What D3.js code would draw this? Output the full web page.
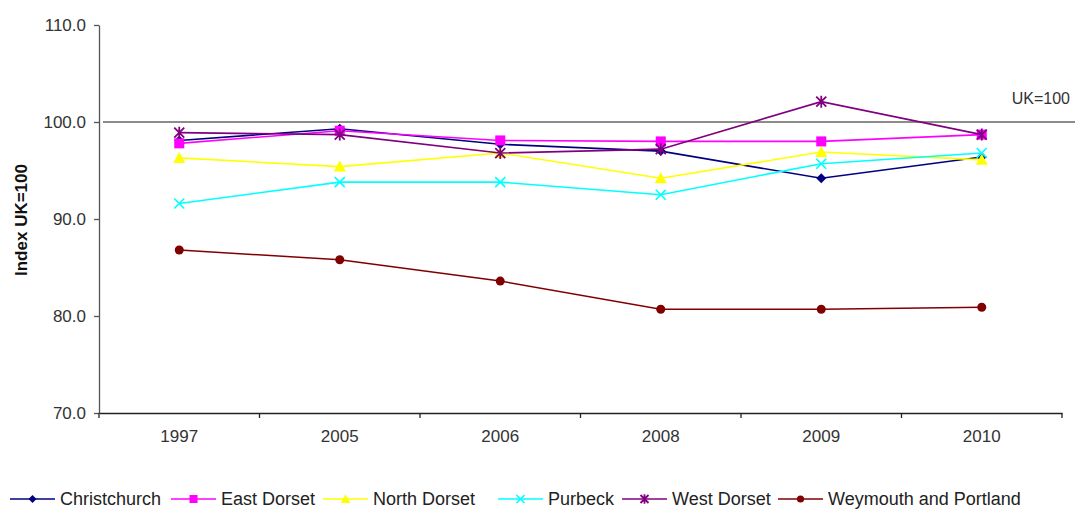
<!DOCTYPE html>
<html><head><meta charset="utf-8">
<script src="https://cdn.jsdelivr.net/npm/d3@7"></script>
<style>body{margin:0;background:#fff}svg{display:block;font-family:"Liberation Sans",Arial,sans-serif}</style>
</head><body><svg id="c" width="1075" height="509"></svg>
<script>
const years = ["1997","2005","2006","2008","2009","2010"];
const seriesNames = ["Christchurch","East Dorset","North Dorset","Purbeck","West Dorset","Weymouth and Portland"];
const christchurch = [98.1, 99.3, 97.7, 97.0, 94.2, 96.4];
const eastDorset   = [97.8, 99.1, 98.1, 98.0, 98.0, 98.7];
const northDorset  = [96.3, 95.4, 96.8, 94.2, 96.9, 96.1];
const purbeck      = [91.6, 93.8, 93.8, 92.5, 95.7, 96.8];
const westDorset   = [98.9, 98.7, 96.8, 97.2, 102.1, 98.7];
const weymouth     = [86.8, 85.8, 83.6, 80.7, 80.7, 80.9];
const yTicks = [70, 80, 90, 100, 110];
const refValue = 100;

const colors = ["#000080","#FF00FF","#FFFF00","#00FFFF","#800080","#800000"];
const markers = ["diamond","square","triangle","x","star","circle"];
const data = [christchurch, eastDorset, northDorset, purbeck, westDorset, weymouth];

const svg = d3.select("#c");
const L = 99, R = 1062, T = 25, B = 413;
const FS = 17;
const x = d3.scaleBand().domain(years).range([L, R]);
const y = d3.scaleLinear().domain([70, 110]).range([B, T]);
const axisCol = "#555";

// y axis
const ya = svg.append("g").attr("transform", `translate(${L},0)`)
  .call(d3.axisLeft(y).tickValues(yTicks).tickFormat(d3.format(".1f")).tickSize(5).tickSizeOuter(0));
ya.select(".domain").attr("stroke", axisCol).attr("stroke-width", 1.3);
ya.selectAll(".tick line").attr("stroke", axisCol).attr("stroke-width", 1.3);
ya.selectAll(".tick text").attr("font-size", FS).attr("fill", "#333").attr("dx", -5).attr("font-family", "Liberation Sans, Arial, sans-serif");

// x axis
const xa = svg.append("g").attr("transform", `translate(0,${B})`)
  .call(d3.axisBottom(x).tickSize(0).tickPadding(17));
xa.select(".domain").attr("stroke", "#222").attr("stroke-width", 1.3);
xa.selectAll(".tick text").attr("font-size", FS).attr("fill", "#333").attr("font-family", "Liberation Sans, Arial, sans-serif");
const bounds = years.map(d => x(d)).concat([R]);
svg.append("g").selectAll("line").data(bounds).join("line")
  .attr("x1", d => d).attr("x2", d => d).attr("y1", B).attr("y2", B + 5)
  .attr("stroke", "#222").attr("stroke-width", 1.3);

// axis title
svg.append("text").attr("transform", `translate(27,220) rotate(-90)`)
  .attr("text-anchor", "middle").attr("font-size", FS).attr("font-weight", "bold").attr("fill", "#111")
  .text("Index UK=100");

// reference line
svg.append("line").attr("x1", L + 4).attr("x2", 1075).attr("y1", y(refValue)).attr("y2", y(refValue))
  .attr("stroke", "#666").attr("stroke-width", 1.5);
svg.append("text").attr("x", 1070).attr("y", y(refValue) - 18).attr("text-anchor", "end")
  .attr("font-size", FS - 1).attr("fill", "#333").text("UK=" + refValue);

function drawMarker(g, type, color, cx, cy, s) {
  s = s || 1;
  if (type === "diamond") {
    g.append("path").attr("d", `M${cx},${cy-5*s}L${cx+5*s},${cy}L${cx},${cy+5*s}L${cx-5*s},${cy}Z`).attr("fill", color);
  } else if (type === "square") {
    g.append("rect").attr("x", cx - 5*s).attr("y", cy - 5*s).attr("width", 10*s).attr("height", 10*s).attr("fill", color);
  } else if (type === "triangle") {
    g.append("path").attr("d", `M${cx},${cy-6*s}L${cx+6*s},${cy+5*s}L${cx-6*s},${cy+5*s}Z`).attr("fill", color);
  } else if (type === "x") {
    g.append("path").attr("d", `M${cx-5*s},${cy-5*s}L${cx+5*s},${cy+5*s}M${cx-5*s},${cy+5*s}L${cx+5*s},${cy-5*s}`)
      .attr("stroke", color).attr("stroke-width", 1.6).attr("fill", "none");
  } else if (type === "star") {
    g.append("path").attr("d", `M${cx-5*s},${cy-5*s}L${cx+5*s},${cy+5*s}M${cx-5*s},${cy+5*s}L${cx+5*s},${cy-5*s}M${cx},${cy-6*s}L${cx},${cy+6*s}`)
      .attr("stroke", color).attr("stroke-width", 1.8).attr("fill", "none");
  } else if (type === "circle") {
    g.append("circle").attr("cx", cx).attr("cy", cy).attr("r", 4.5*s).attr("fill", color);
  }
}

const line = d3.line().x((d, i) => x(years[i]) + x.bandwidth() / 2).y(d => y(d));
data.forEach((vals, k) => {
  const g = svg.append("g");
  g.append("path").datum(vals).attr("d", line).attr("fill", "none")
    .attr("stroke", colors[k]).attr("stroke-width", 1.6);
  vals.forEach((v, i) => drawMarker(g, markers[k], colors[k], x(years[i]) + x.bandwidth() / 2, y(v)));
});

// legend
const legX = [10, 171, 323, 498, 622, 778];
const lg = svg.append("g");
seriesNames.forEach((n, k) => {
  const g = lg.append("g");
  const ly = 499;
  g.append("line").attr("x1", legX[k]).attr("x2", legX[k] + 45).attr("y1", ly).attr("y2", ly)
    .attr("stroke", colors[k]).attr("stroke-width", 1.6);
  drawMarker(g, markers[k], colors[k], legX[k] + 22.5, ly, 0.8);
  g.append("text").attr("x", legX[k] + 50).attr("y", ly + 6).attr("font-size", 18).attr("fill", "#222").text(n);
});
</script></body></html>
